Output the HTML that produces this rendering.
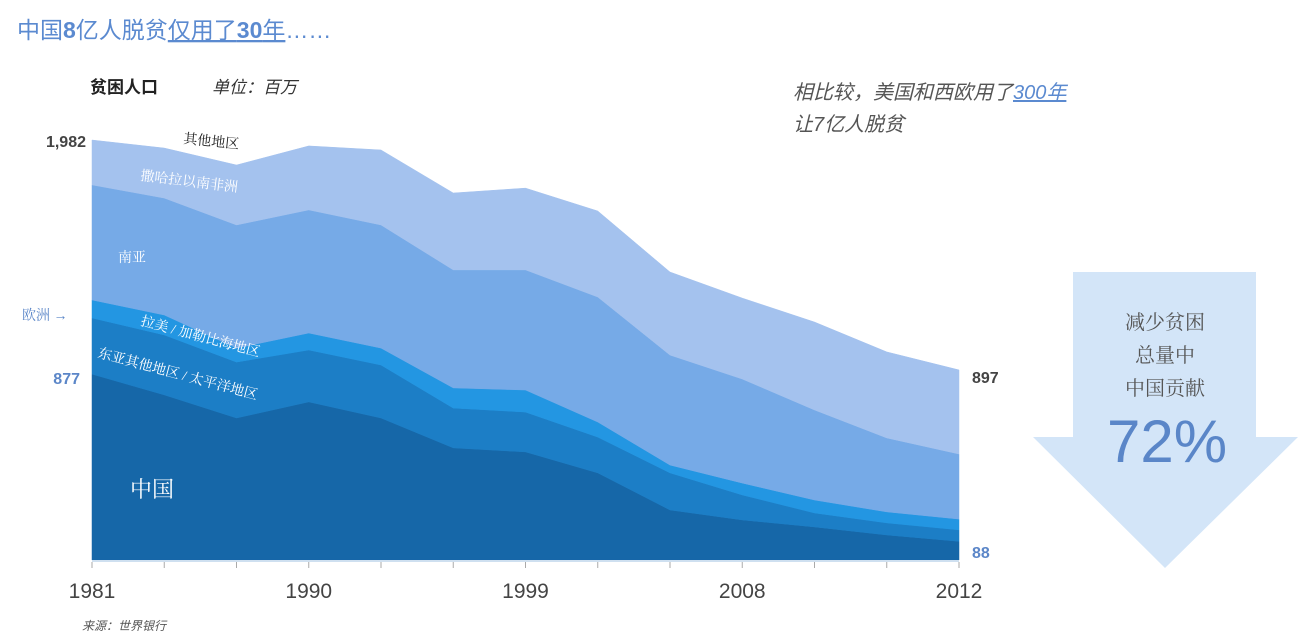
<!DOCTYPE html>
<html><head><meta charset="utf-8">
<style>
html,body{margin:0;padding:0;background:#fff;}
body{width:1312px;height:640px;overflow:hidden;position:relative;font-family:"Liberation Sans","Noto Sans CJK SC",sans-serif;}
svg{position:absolute;left:0;top:0;}
</style></head>
<body>
<svg id="chart" width="1312" height="640" viewBox="0 0 1312 640">
  <text x="17" y="38" font-size="23" fill="#5b8ad0" font-family="Liberation Sans, Noto Sans CJK SC, sans-serif">中国<tspan font-weight="bold">8</tspan>亿人脱贫<tspan text-decoration="underline">仅用了<tspan font-weight="bold">30</tspan>年</tspan>……</text>
  <text x="90" y="93" font-size="17" font-weight="bold" fill="#222">贫困人口</text>
  <text x="212" y="93" font-size="17" font-style="italic" fill="#333">单位：百万</text>
  <text x="793" y="99" font-size="20" font-style="italic" fill="#555">相比较，美国和西欧用了<tspan fill="#5b8ad0" text-decoration="underline">300年</tspan></text>
  <text x="793" y="131" font-size="20" font-style="italic" fill="#555">让7亿人脱贫</text>
  <g id="areas"></g>
  <g id="axis"></g>
  <g id="labels"></g>
  <polygon points="1073,272 1256,272 1256,437 1298,437 1165,568 1033,437 1073,437" fill="#d3e5f8"/>
  <g font-family="Liberation Serif, Noto Serif CJK SC, serif" font-size="20" fill="#555" text-anchor="middle">
    <text x="1165" y="329">减少贫困</text>
    <text x="1165" y="362">总量中</text>
    <text x="1165" y="395">中国贡献</text>
  </g>
  <text x="1167" y="462" font-size="60" fill="#5a86c8" text-anchor="middle">72%</text>
  <text x="82" y="630" font-size="12" font-style="italic" fill="#555">来源：世界银行</text>
</svg>
<script>
const years = [1981,1984,1987,1990,1993,1996,1999,2002,2005,2008,2010,2011,2012];
const tickLabels = ["1981","1990","1999","2008","2012"];
const china = [877,779,670,746,670,529,510,411,236,189,156,118,88];
const eastAsiaOther = [265,283,264,245,250,188,188,169,175,118,66,57,54];
const latinAmerica = [85,94,66,80,80,95,104,71,37,56,61,52,51];
const southAsia = [543,552,581,581,581,557,567,590,519,491,425,349,307];
const subSaharan = [212,236,283,302,354,363,386,406,392,382,415,406,397];

const X0=92, X1=959, BASE=560, YMAX=1982, YTOP=140;
const xs = i => X0 + (X1-X0)*i/(years.length-1);
const ys = v => BASE - (BASE-YTOP)*v/YMAX;
const NS="http://www.w3.org/2000/svg";
const series=[china,eastAsiaOther,latinAmerica,southAsia,subSaharan];
const colors=["#1667a8","#1c7ec6","#2396e2","#76aae7","#a4c2ee"];
const names=["area-china","area-east-asia-other","area-latin-america","area-south-asia","area-sub-saharan-africa"];
const areas=document.getElementById('areas');
let cum=years.map(()=>0);
series.forEach((s,k)=>{
  const lower=cum.slice(); cum=cum.map((c,i)=>c+s[i]);
  let d="M"+xs(0)+","+ys(cum[0]);
  for(let i=1;i<years.length;i++) d+=" L"+xs(i)+","+ys(cum[i]);
  for(let i=years.length-1;i>=0;i--) d+=" L"+xs(i)+","+ys(lower[i]);
  d+="Z";
  const p=document.createElementNS(NS,'path');
  p.setAttribute('d',d);p.setAttribute('fill',colors[k]);
  p.setAttribute('stroke',colors[k]);p.setAttribute('stroke-width','0.5');
  
  
  areas.appendChild(p);
});
const total=cum;
const axis=document.getElementById('axis');
const line=document.createElementNS(NS,'line');
line.setAttribute('x1',X0);line.setAttribute('x2',X1);line.setAttribute('y1',BASE+1);line.setAttribute('y2',BASE+1);
line.setAttribute('stroke','#cfe0f0');line.setAttribute('stroke-width','2');


axis.appendChild(line);
years.forEach((y,i)=>{
  const t=document.createElementNS(NS,'line');
  t.setAttribute('x1',xs(i));t.setAttribute('x2',xs(i));t.setAttribute('y1',BASE+2);t.setAttribute('y2',BASE+8);
  t.setAttribute('stroke','#aaa');
  
  
  axis.appendChild(t);
  if(tickLabels.indexOf(String(y))>=0){
    const tx=document.createElementNS(NS,'text');
    tx.setAttribute('x',xs(i));tx.setAttribute('y',598);tx.setAttribute('text-anchor','middle');
    tx.setAttribute('font-size','21');tx.setAttribute('fill','#444');
    tx.textContent=String(y);
    
    
    axis.appendChild(tx);
  }
});
const L=document.getElementById('labels');
function lab(txt,x,y,opt){
  const t=document.createElementNS(NS,'text');
  t.setAttribute('x',x);t.setAttribute('y',y);
  t.setAttribute('font-size',opt.size||14);t.setAttribute('fill',opt.fill||'#fff');
  t.setAttribute('font-family','Liberation Serif, Noto Serif CJK SC, serif');
  if(opt.anchor)t.setAttribute('text-anchor',opt.anchor);
  if(opt.weight)t.setAttribute('font-weight',opt.weight);
  if(opt.rot)t.setAttribute('transform','rotate('+opt.rot+' '+x+' '+y+')');
  if(opt.sans)t.setAttribute('font-family','Liberation Sans, Noto Sans CJK SC, sans-serif');
  t.textContent=txt;
  
  
  L.appendChild(t);
}
lab("其他地区",183,143,{fill:"#222",rot:6,name:"label-other-regions"});
lab("撒哈拉以南非洲",140,180,{rot:7,name:"label-sub-saharan-africa"});
lab("南亚",118,262,{name:"label-south-asia"});
lab("拉美 / 加勒比海地区",140,325,{rot:15,name:"label-latin-america"});
lab("东亚其他地区 / 太平洋地区",97,357,{rot:15,name:"label-east-asia-other"});
lab("中国",130,497,{size:22,name:"label-china"});
lab("1,982",86,147,{fill:"#444",anchor:"end",weight:"bold",size:16,sans:true,name:"start-total-value"});
lab(String(china[0]),80,384,{fill:"#5b86c8",anchor:"end",weight:"bold",size:16,sans:true,name:"start-china-value"});
lab(String(total[total.length-1]),972,383,{fill:"#444",weight:"bold",size:16,sans:true,name:"end-total-value"});
lab(String(china[china.length-1]),972,558,{fill:"#5b86c8",weight:"bold",size:16,sans:true,name:"end-china-value"});
lab("欧洲 →",22,320,{fill:"#5b86c8",size:14,name:"label-europe"});
</script>
</body></html>
